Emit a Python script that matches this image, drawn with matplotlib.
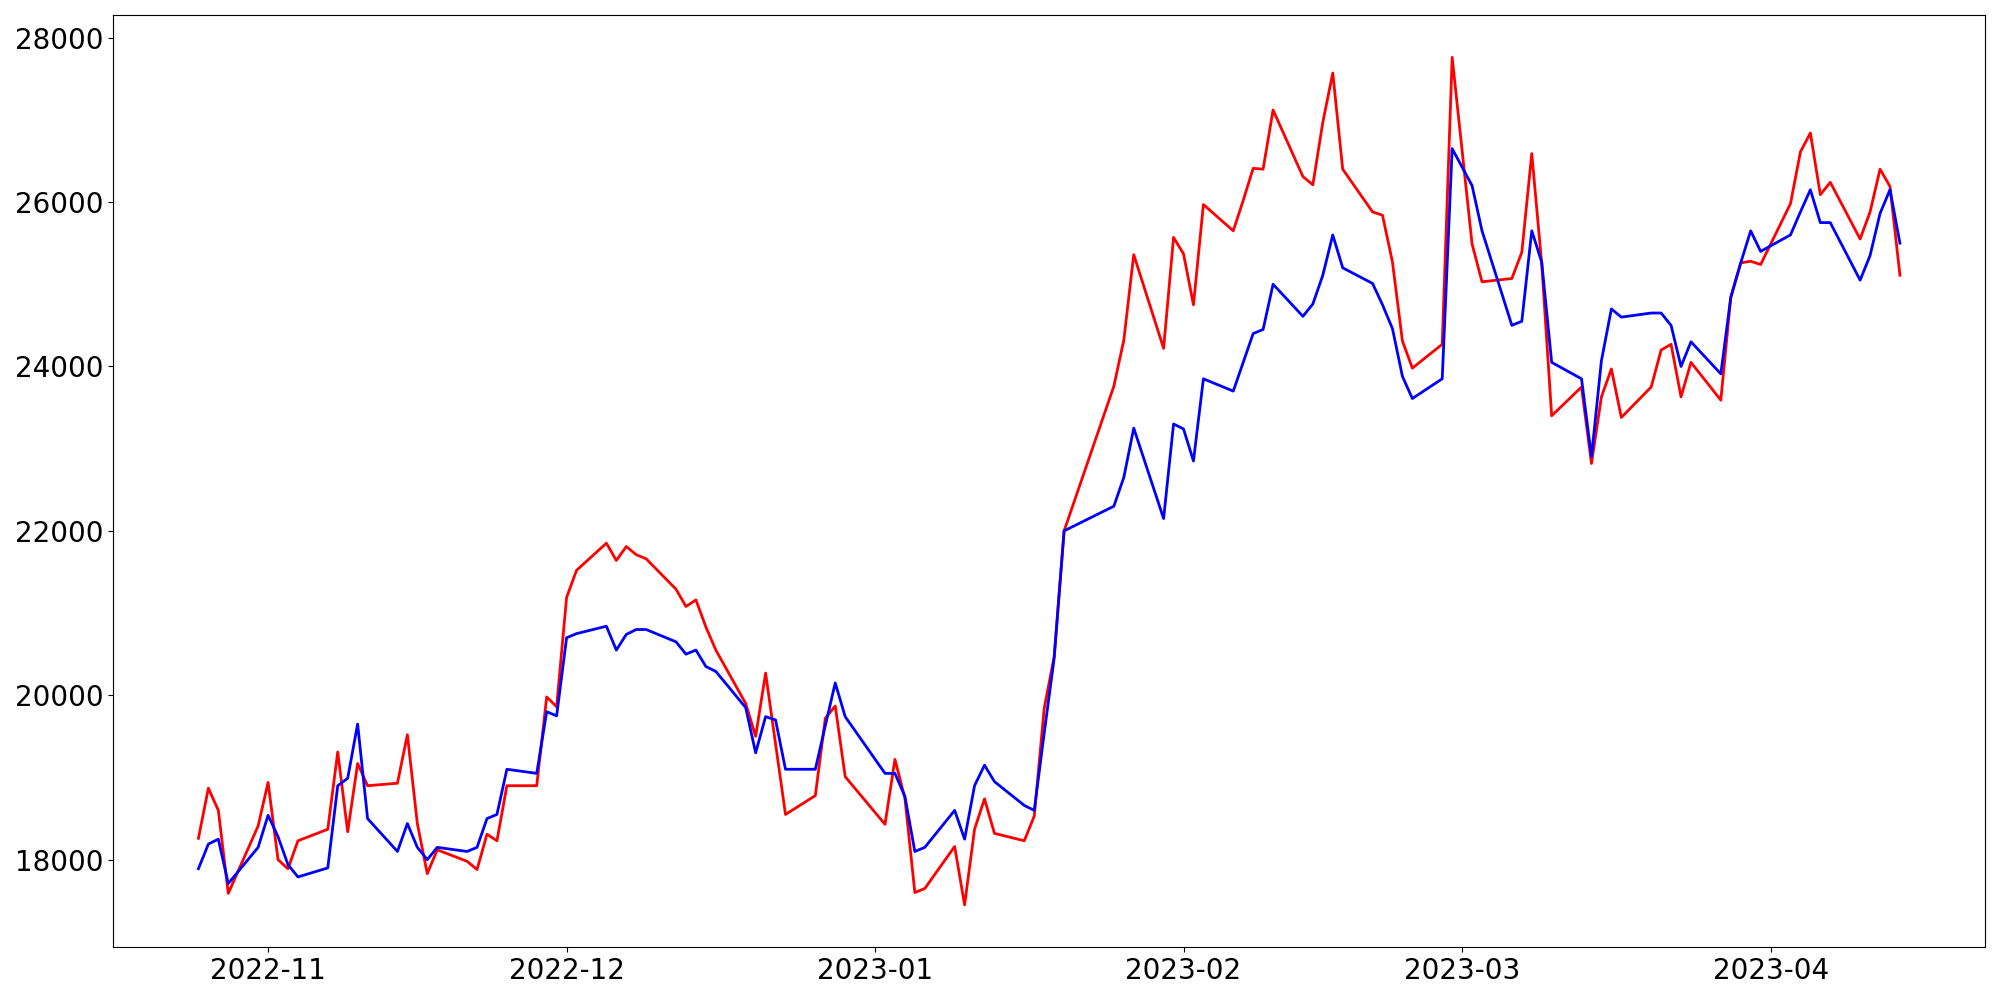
import matplotlib
matplotlib.use("Agg")
import matplotlib.pyplot as plt
import pandas as pd

# Trading days shown on the chart
dates = [
    "2022-10-25", "2022-10-26", "2022-10-27", "2022-10-28", "2022-10-31",
    "2022-11-01", "2022-11-02", "2022-11-03", "2022-11-04", "2022-11-07",
    "2022-11-08", "2022-11-09", "2022-11-10", "2022-11-11", "2022-11-14",
    "2022-11-15", "2022-11-16", "2022-11-17", "2022-11-18", "2022-11-21",
    "2022-11-22", "2022-11-23", "2022-11-24", "2022-11-25", "2022-11-28",
    "2022-11-29", "2022-11-30", "2022-12-01", "2022-12-02", "2022-12-05",
    "2022-12-06", "2022-12-07", "2022-12-08", "2022-12-09", "2022-12-12",
    "2022-12-13", "2022-12-14", "2022-12-15", "2022-12-16", "2022-12-19",
    "2022-12-20", "2022-12-21", "2022-12-22", "2022-12-23", "2022-12-26",
    "2022-12-27", "2022-12-28", "2022-12-29", "2023-01-02", "2023-01-03",
    "2023-01-04", "2023-01-05", "2023-01-06", "2023-01-09", "2023-01-10",
    "2023-01-11", "2023-01-12", "2023-01-13", "2023-01-16", "2023-01-17",
    "2023-01-18", "2023-01-19", "2023-01-20", "2023-01-25", "2023-01-26",
    "2023-01-27", "2023-01-30", "2023-01-31", "2023-02-01", "2023-02-02",
    "2023-02-03", "2023-02-06", "2023-02-07", "2023-02-08", "2023-02-09",
    "2023-02-10", "2023-02-13", "2023-02-14", "2023-02-15", "2023-02-16",
    "2023-02-17", "2023-02-20", "2023-02-21", "2023-02-22", "2023-02-23",
    "2023-02-24", "2023-02-27", "2023-02-28", "2023-03-02", "2023-03-03",
    "2023-03-06", "2023-03-07", "2023-03-08", "2023-03-09", "2023-03-10",
    "2023-03-13", "2023-03-14", "2023-03-15", "2023-03-16", "2023-03-17",
    "2023-03-20", "2023-03-21", "2023-03-22", "2023-03-23", "2023-03-24",
    "2023-03-27", "2023-03-28", "2023-03-29", "2023-03-30", "2023-03-31",
    "2023-04-03", "2023-04-04", "2023-04-05", "2023-04-06", "2023-04-07",
    "2023-04-10", "2023-04-11", "2023-04-12", "2023-04-13", "2023-04-14",
]

# Red series
red_vals = [
    18260, 18870, 18600, 17590, 18410,
    18940, 18000, 17890, 18230, 18370,
    19310, 18340, 19170, 18900, 18930,
    19520, 18440, 17830, 18120, 17980,
    17880, 18310, 18230, 18900, 18900,
    19980, 19860, 21190, 21520, 21850,
    21640, 21810, 21710, 21660, 21290,
    21080, 21160, 20830, 20550, 19900,
    19500, 20270, 19410, 18550, 18780,
    19720, 19870, 19010, 18430, 19220,
    18750, 17600, 17650, 18160, 17450,
    18370, 18740, 18320, 18230, 18530,
    19840, 20470, 22000, 23760, 24320,
    25360, 24220, 25570, 25370, 24750,
    25970, 25650, 26020, 26410, 26400,
    27120, 26310, 26210, 26970, 27570,
    26400, 25880, 25840, 25270, 24310,
    23980, 24270, 27760, 25490, 25030,
    25070, 25390, 26590, 25250, 23400,
    23750, 22820, 23630, 23970, 23380,
    23750, 24200, 24270, 23630, 24050,
    23590, 24840, 25260, 25280, 25240,
    25980, 26610, 26840, 26090, 26240,
    25550, 25880, 26400, 26190, 25110,
]

# Blue series
blue_vals = [
    17890, 18190, 18250, 17710, 18150,
    18540, 18280, 17940, 17790, 17900,
    18900, 18990, 19650, 18500, 18100,
    18440, 18150, 18000, 18150, 18100,
    18150, 18500, 18550, 19100, 19050,
    19800, 19750, 20700, 20750, 20840,
    20550, 20740, 20800, 20800, 20650,
    20500, 20550, 20350, 20290, 19850,
    19300, 19740, 19700, 19100, 19100,
    19630, 20150, 19740, 19050, 19050,
    18770, 18100, 18150, 18600, 18250,
    18900, 19150, 18950, 18660, 18600,
    19540, 20450, 22000, 22300, 22650,
    23250, 22150, 23300, 23240, 22850,
    23850, 23700, 24050, 24400, 24450,
    25000, 24610, 24760, 25110, 25600,
    25200, 25010, 24750, 24460, 23880,
    23610, 23850, 26650, 26200, 25650,
    24500, 24550, 25650, 25270, 24050,
    23850, 22900, 24070, 24700, 24600,
    24650, 24650, 24500, 24000, 24300,
    23910, 24840, 25260, 25650, 25400,
    25600, 25880, 26150, 25750, 25750,
    25050, 25350, 25860, 26150, 25500,
]

x = pd.to_datetime(dates)

fig, ax = plt.subplots(figsize=(20, 10), dpi=100)

# red first so the blue line sits on top where they overlap
ax.plot(x, red_vals, color="red", linewidth=2)
ax.plot(x, blue_vals, color="blue", linewidth=2)

ax.tick_params(axis="both", labelsize=20)

plt.tight_layout()
plt.savefig("out.png")
